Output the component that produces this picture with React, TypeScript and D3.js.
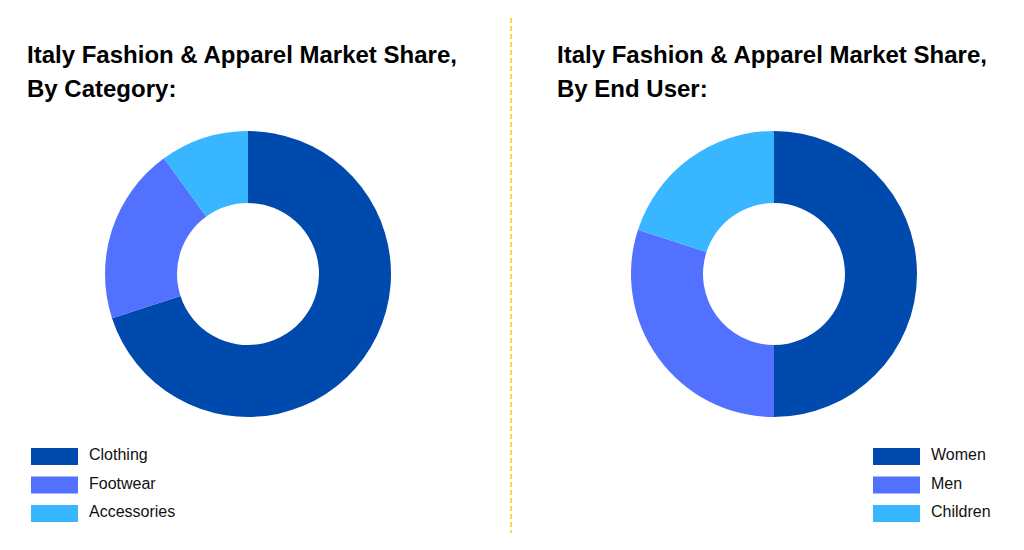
import React from 'react';
import * as d3 from 'd3';

// Category split (left)
const categoryLabels = ['Clothing', 'Footwear', 'Accessories'];
const categoryValues = [70, 20, 10];

// End user split (right)
const endUserLabels = ['Women', 'Men', 'Children'];
const endUserValues = [50, 30, 20];

const colors = ['#004AAD', '#5271FF', '#38B6FF'];
const font = "'Liberation Sans', Arial, Helvetica, sans-serif";

interface DonutProps {
  title: string[];
  labels: string[];
  values: number[];
  x: number;
  cx: number;
  legendX: number;
}

const Donut: React.FC<DonutProps> = ({ title, labels, values, x, cx, legendX }) => {
  const pie = d3.pie<number>().sort(null).value(d => d);
  const arc = d3.arc<d3.PieArcDatum<number>>().innerRadius(71).outerRadius(143);
  const arcs = pie(values);

  return (
    <g>
      {title.map((t, i) => (
        <text
          key={t}
          x={x}
          y={63 + i * 34}
          style={{ fontFamily: font, fontWeight: 'bold', fontSize: 24 }}
          fill="#000"
        >
          {t}
        </text>
      ))}
      <g transform={`translate(${cx},274)`}>
        {arcs.map((a, i) => (
          <path key={i} d={arc(a) || ''} fill={colors[i]} />
        ))}
      </g>
      {labels.map((l, i) => (
        <g key={l} transform={`translate(${legendX},${448 + i * 28.5})`}>
          <rect width={47} height={17} fill={colors[i]} />
          <text x={58} y={12} style={{ fontFamily: font, fontSize: 16 }} fill="#111">
            {l}
          </text>
        </g>
      ))}
    </g>
  );
};

const App: React.FC = () => {
  return (
    <svg
      width={1024}
      height={550}
      style={{ position: 'absolute', left: 0, top: 0, background: '#fff' }}
    >
      <Donut
        title={['Italy Fashion & Apparel Market Share,', 'By Category:']}
        labels={categoryLabels}
        values={categoryValues}
        x={27}
        cx={248}
        legendX={31}
      />
      <line
        x1={511}
        x2={511}
        y1={18}
        y2={533}
        stroke="#FFD84A"
        strokeWidth={2}
        strokeDasharray="5,3"
      />
      <Donut
        title={['Italy Fashion & Apparel Market Share,', 'By End User:']}
        labels={endUserLabels}
        values={endUserValues}
        x={557}
        cx={774}
        legendX={873}
      />
    </svg>
  );
};

export default App;
